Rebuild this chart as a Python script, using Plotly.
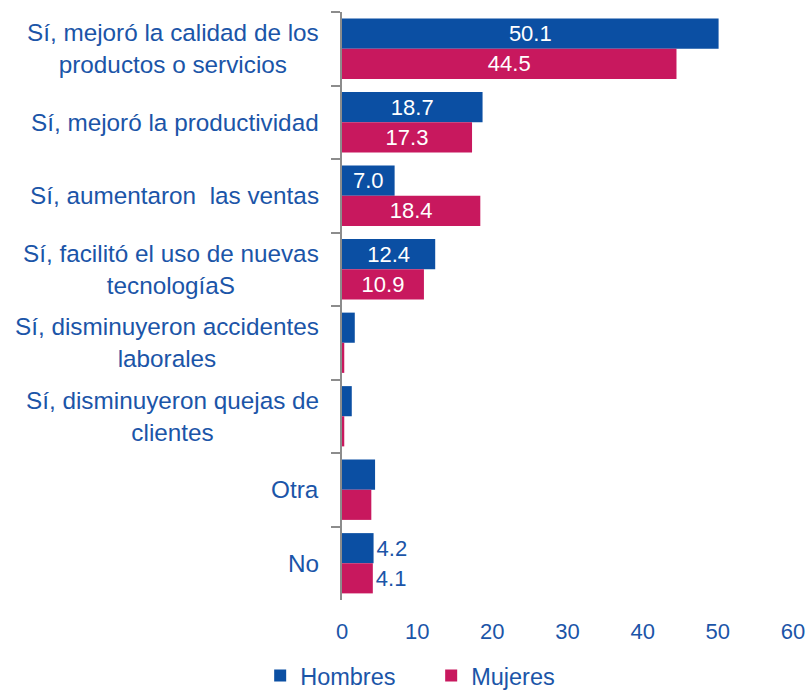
import plotly.graph_objects as go

categories = [
    "Sí, mejoró la calidad de los<br>productos o servicios",
    "Sí, mejoró la productividad",
    "Sí, aumentaron  las ventas",
    "Sí, facilitó el uso de nuevas<br>tecnologíaS",
    "Sí, disminuyeron accidentes<br>laborales",
    "Sí, disminuyeron quejas de<br>clientes",
    "Otra",
    "No",
]
hombres = [50.1, 18.7, 7.0, 12.4, 1.7, 1.3, 4.4, 4.2]
mujeres = [44.5, 17.3, 18.4, 10.9, 0.3, 0.3, 3.9, 4.1]
hombres_labels = ["50.1", "18.7", "7.0", "12.4", "", "", "", "4.2"]
mujeres_labels = ["44.5", "17.3", "18.4", "10.9", "", "", "", "4.1"]
label_pos = ["inside", "inside", "inside", "inside", "none", "none", "none", "outside"]
x_ticks = [0, 10, 20, 30, 40, 50, 60]

BLUE = "#0B4FA3"
PINK = "#C8185E"
TXT = "#1B55A8"
FONT = "Liberation Sans, Arial, sans-serif"

fig = go.Figure()
for name, vals, labels, color in [
    ("Hombres", hombres, hombres_labels, BLUE),
    ("Mujeres", mujeres, mujeres_labels, PINK),
]:
    fig.add_trace(go.Bar(
        y=categories, x=vals, name=name, orientation="h",
        marker=dict(color=color, line=dict(width=0)),
        text=labels, textposition=label_pos,
        insidetextanchor="middle",
        insidetextfont=dict(color="white", size=22, family=FONT),
        outsidetextfont=dict(color=TXT, size=22, family=FONT),
        constraintext="none", cliponaxis=False,
    ))

for cat in categories:
    fig.add_annotation(
        x=0, xref="paper", y=cat, yref="y", xshift=-21,
        xanchor="right", yanchor="middle", align="center",
        text=cat, showarrow=False,
        font=dict(color=TXT, size=24.3, family=FONT),
    )

fig.update_layout(
    width=808, height=691,
    margin=dict(l=342, r=15, t=12, b=91, autoexpand=False),
    paper_bgcolor="white", plot_bgcolor="white",
    barmode="group", bargap=0.18, bargroupgap=0,
    font=dict(family=FONT, color=TXT, size=22),
    showlegend=True,
    legend=dict(
        orientation="h", xref="container", yref="container",
        x=0.322, xanchor="left", y=0.022, yanchor="middle",
        font=dict(size=23.5, color=TXT, family=FONT),
        entrywidth=126, traceorder="normal",
    ),
)
fig.update_xaxes(
    range=[0, 60], tickvals=x_ticks, ticktext=[str(v) for v in x_ticks],
    showgrid=False, zeroline=False, showline=False, ticks="",
    automargin=False,
    ticklabelstandoff=16, tickfont=dict(size=22, color=TXT, family=FONT),
)
fig.update_yaxes(
    categoryorder="array", categoryarray=categories, autorange="reversed",
    showticklabels=False, showgrid=False, zeroline=False, automargin=False,
    showline=True, linecolor="#8C8C8C", linewidth=2,
    ticks="outside", tickson="boundaries", ticklen=9, tickcolor="#8C8C8C", tickwidth=2,
)

fig.write_html(
    "out.html",
    config={"displayModeBar": False},
    post_script="document.body.style.margin='0px';document.body.style.overflow='hidden';",
)
